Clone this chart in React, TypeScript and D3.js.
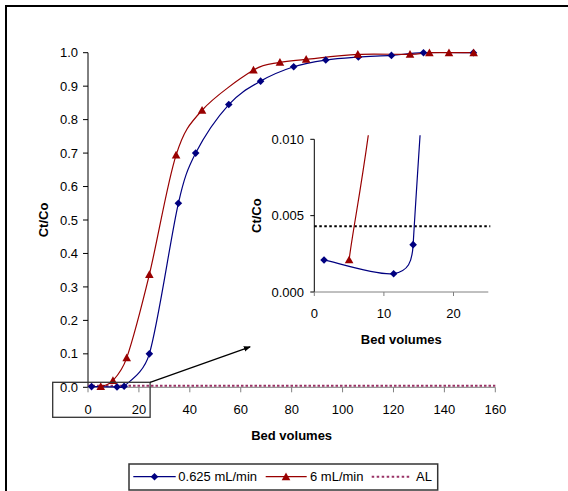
import React from "react";
import * as d3 from "d3";

// ---- data ----
const blueBV = [1.4, 11.4, 14.2, 24.1, 35.5, 42.3, 55.3, 67.8, 80.8, 93.4, 106.2, 119.2, 131.8, 151.4];
const blueCt = [0.0021, 0.0012, 0.0031, 0.1, 0.55, 0.7, 0.845, 0.915, 0.958, 0.978, 0.987, 0.992, 1.0, 1.0];
const redBV = [5.0, 9.8, 15.2, 24.1, 34.6, 44.8, 65.0, 75.4, 85.7, 106.0, 126.5, 134.1, 141.8, 151.5];
const redCt = [0.0021, 0.02, 0.088, 0.337, 0.694, 0.828, 0.948, 0.971, 0.98, 0.995, 0.995, 1.0, 1.0, 1.0];
const AL = 0.0043;
const seriesNames = ["0.625 mL/min", "6 mL/min", "AL"];
const mainXTicks = [0, 20, 40, 60, 80, 100, 120, 140, 160];
const mainYTicks = [0, 0.1, 0.2, 0.3, 0.4, 0.5, 0.6, 0.7, 0.8, 0.9, 1.0];
const insetXTicks = [0, 10, 20];
const insetYTicks = [0, 0.005, 0.01];

const BLUE = "#000080";
const RED = "#990000";
const PURPLE = "#993366";
const FONT = "'Liberation Sans', Arial, Helvetica, sans-serif";

type P = [number, number];
const blue: P[] = blueBV.map((x, i) => [x, blueCt[i]]);
const red: P[] = redBV.map((x, i) => [x, redCt[i]]);

// Excel-like smoothed line: Bezier with 1/6 tension, control arms capped at half segment
function excelSmooth(pts: P[]): string {
  const p = d3.path();
  if (!pts.length) return "";
  const dist = (a: P, b: P) => Math.hypot(a[0] - b[0], a[1] - b[1]);
  p.moveTo(pts[0][0], pts[0][1]);
  for (let i = 0; i < pts.length - 1; i++) {
    const p0 = pts[Math.max(0, i - 1)];
    const p1 = pts[i];
    const p2 = pts[i + 1];
    const p3 = pts[Math.min(pts.length - 1, i + 2)];
    const d12 = dist(p1, p2);
    const d02 = dist(p0, p2);
    const d13 = dist(p1, p3);
    let f1 = 1 / 6;
    let f2 = 1 / 6;
    if (d02 / 6 >= d12 / 2 && d02 > 0) f1 = d12 / d02 / 2;
    if (d13 / 6 >= d12 / 2 && d13 > 0) f2 = d12 / d13 / 2;
    const c1: P = [p1[0] + (p2[0] - p0[0]) * f1, p1[1] + (p2[1] - p0[1]) * f1];
    const c2: P = [p2[0] - (p3[0] - p1[0]) * f2, p2[1] - (p3[1] - p1[1]) * f2];
    p.bezierCurveTo(c1[0], c1[1], c2[0], c2[1], p2[0], p2[1]);
  }
  return p.toString();
}

function Diamond({ x, y, s = 3.8 }: { x: number; y: number; s?: number }) {
  return <path d={`M${x},${y - s}L${x + s},${y}L${x},${y + s}L${x - s},${y}Z`} fill={BLUE} />;
}
function Tri({ x, y, s = 4.3 }: { x: number; y: number; s?: number }) {
  return <path d={`M${x},${y - s}L${x + s},${y + s * 0.8}L${x - s},${y + s * 0.8}Z`} fill={RED} />;
}

export default function App() {
  const xM = d3.scaleLinear().domain([0, 160]).range([88, 495.3]);
  const yM = d3.scaleLinear().domain([0, 1]).range([387.3, 52.7]);
  const xI = d3.scaleLinear().domain([0, 25]).range([314.3, 488.3]);
  const yI = d3.scaleLinear().domain([0, 0.01]).range([292, 139.3]);

  const toM = (d: P): P => [xM(d[0]), yM(d[1])];
  const toI = (d: P): P => [xI(d[0]), yI(d[1])];

  const fmtM = d3.format(".1f");
  const fmtI = d3.format(".3f");

  const insetBlue = blue.filter((d) => d[0] <= 25 && d[1] <= 0.01);
  const insetRed = red.filter((d) => d[0] <= 25 && d[1] <= 0.01);

  const boxL = xM(0) - 35.3;
  const boxR = xM(24.4);
  const boxT = yM(0) - 5;
  const boxB = yM(0) + 30;
  const arrowEnd: P = [xM(63.7), yM(0.121)];

  return (
    <svg
      width={568}
      height={491}
      style={{ position: "absolute", left: 0, top: 0, background: "#fff" }}
      fontFamily={FONT}
    >
      <defs>
        <clipPath id="insetClip">
          <rect x={xI(0)} y={yI(0.01) - 4} width={xI(25) - xI(0)} height={yI(0) - yI(0.01) + 8} />
        </clipPath>
        <marker id="arr" viewBox="0 0 10 10" refX={9} refY={5} markerWidth={7} markerHeight={7} orient="auto" markerUnits="userSpaceOnUse">
          <path d="M0,1L10,5L0,9Z" fill="#000" />
        </marker>
      </defs>
      <path d="M6,495V6H570" fill="none" stroke="#000" strokeWidth={2} />

      {/* ===== main chart ===== */}
      <line x1={xM(0)} x2={xM(0)} y1={yM(1)} y2={yM(0)} stroke="#000" strokeWidth={1} />
      {mainYTicks.map((t) => (
        <g key={"my" + t}>
          <line x1={xM(0) - 5} x2={xM(0)} y1={yM(t)} y2={yM(t)} stroke="#000" />
          <text x={78} y={yM(t) + 4.6} textAnchor="end" fontSize={13} fill="#000">
            {fmtM(t)}
          </text>
        </g>
      ))}
      <line x1={xM(0)} x2={xM(160)} y1={yM(0)} y2={yM(0)} stroke="#808080" strokeWidth={1} />
      {mainXTicks.map((t) => (
        <g key={"mx" + t}>
          <line x1={xM(t)} x2={xM(t)} y1={yM(0)} y2={yM(0) + 5} stroke="#808080" />
          <text x={xM(t)} y={414} textAnchor="middle" fontSize={13} fill="#000">
            {t}
          </text>
        </g>
      ))}
      <text x={(xM(0) + xM(160)) / 2} y={440} textAnchor="middle" fontSize={13} fontWeight="bold">
        Bed volumes
      </text>
      <text transform={`translate(48,${(yM(0) + yM(1)) / 2}) rotate(-90)`} textAnchor="middle" fontSize={13} fontWeight="bold">
        Ct/Co
      </text>

      <line x1={xM(0)} x2={xM(160)} y1={yM(AL)} y2={yM(AL)} stroke={PURPLE} strokeWidth={2} strokeDasharray="2.5,2" />

      <path d={excelSmooth(blue.map(toM))} fill="none" stroke={BLUE} strokeWidth={1.2} />
      <path d={excelSmooth(red.map(toM))} fill="none" stroke={RED} strokeWidth={1.2} />
      {blue.map((d, i) => (
        <Diamond key={"bd" + i} x={xM(d[0])} y={yM(d[1])} />
      ))}
      {red.map((d, i) => (
        <Tri key={"rt" + i} x={xM(d[0])} y={yM(d[1])} />
      ))}

      <rect x={boxL} y={boxT} width={boxR - boxL} height={boxB - boxT} fill="none" stroke="#333" strokeWidth={1.3} />
      <line x1={boxR} y1={boxT} x2={arrowEnd[0]} y2={arrowEnd[1]} stroke="#000" strokeWidth={1.3} markerEnd="url(#arr)" />

      {/* ===== inset ===== */}
      <line x1={xI(0)} x2={xI(0)} y1={yI(0.01)} y2={yI(0)} stroke="#000" />
      {insetYTicks.map((t) => (
        <g key={"iy" + t}>
          <line x1={xI(0) - 4} x2={xI(0)} y1={yI(t)} y2={yI(t)} stroke="#000" />
          <text x={304} y={yI(t) + 4.6} textAnchor="end" fontSize={13}>
            {fmtI(t)}
          </text>
        </g>
      ))}
      <line x1={xI(0)} x2={xI(25)} y1={yI(0)} y2={yI(0)} stroke="#808080" />
      {insetXTicks.map((t) => (
        <g key={"ix" + t}>
          <line x1={xI(t)} x2={xI(t)} y1={yI(0)} y2={yI(0) + 4} stroke="#808080" />
          <text x={xI(t)} y={318} textAnchor="middle" fontSize={13}>
            {t}
          </text>
        </g>
      ))}
      <text x={(xI(0) + xI(25)) / 2} y={343.7} textAnchor="middle" fontSize={13} fontWeight="bold">
        Bed volumes
      </text>
      <text transform={`translate(261,${(yI(0) + yI(0.01)) / 2}) rotate(-90)`} textAnchor="middle" fontSize={13} fontWeight="bold">
        Ct/Co
      </text>
      <line x1={xI(0)} x2={xI(25) + 2} y1={yI(AL)} y2={yI(AL)} stroke="#000" strokeWidth={2} strokeDasharray="2.5,2.5" />
      <g clipPath="url(#insetClip)">
        <path d={excelSmooth(blue.map(toI))} fill="none" stroke={BLUE} strokeWidth={1.2} />
        <path d={excelSmooth(red.map(toI))} fill="none" stroke={RED} strokeWidth={1.2} />
      </g>
      {insetBlue.map((d, i) => (
        <Diamond key={"ibd" + i} x={xI(d[0])} y={yI(d[1])} />
      ))}
      {insetRed.map((d, i) => (
        <Tri key={"irt" + i} x={xI(d[0])} y={yI(d[1])} />
      ))}

      {/* ===== legend ===== */}
      <rect x={129} y={464} width={308.7} height={26} fill="#fff" stroke="#333" strokeWidth={1.5} />
      <line x1={133.3} x2={175.7} y1={476.7} y2={476.7} stroke={BLUE} strokeWidth={1.2} />
      <Diamond x={154.5} y={476.7} />
      <text x={178.3} y={481.3} fontSize={13}>
        {seriesNames[0]}
      </text>
      <line x1={265.7} x2={306.7} y1={476.7} y2={476.7} stroke={RED} strokeWidth={1.2} />
      <Tri x={286} y={476.7} />
      <text x={310} y={481.3} fontSize={13}>
        {seriesNames[1]}
      </text>
      <line x1={371.7} x2={411.7} y1={476.7} y2={476.7} stroke={PURPLE} strokeWidth={2} strokeDasharray="2.5,2.5" />
      <text x={416} y={481.3} fontSize={13}>
        {seriesNames[2]}
      </text>
    </svg>
  );
}
